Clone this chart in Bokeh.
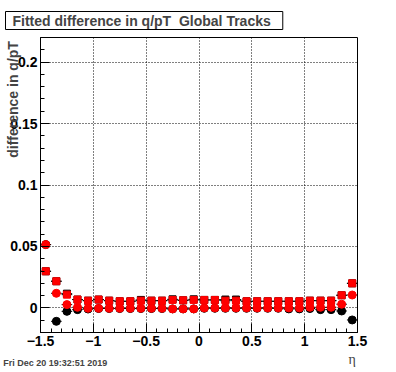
import numpy as np
from bokeh.plotting import figure
from bokeh.models import FixedTicker, LinearAxis, ColumnDataSource
from bokeh.embed import file_html
from bokeh.resources import INLINE

# ---------------- data ----------------
eta = [-1.45, -1.35, -1.25, -1.15, -1.05, -0.95, -0.85, -0.75, -0.65, -0.55,
       -0.45, -0.35, -0.25, -0.15, -0.05, 0.05, 0.15, 0.25, 0.35, 0.45,
       0.55, 0.65, 0.75, 0.85, 0.95, 1.05, 1.15, 1.25, 1.35, 1.45]
bin_half_width = 0.05

red_squares = [0.0298, 0.0217, 0.0108, 0.0068, 0.0059, 0.0068, 0.0059, 0.0054, 0.0054, 0.0059,
               0.0059, 0.0059, 0.0065, 0.0062, 0.0065, 0.0065, 0.0065, 0.0059, 0.0059, 0.0054,
               0.0054, 0.0054, 0.0054, 0.0054, 0.0054, 0.0059, 0.0059, 0.0059, 0.0103, 0.0200]
black_squares = [0.0298, 0.0217, 0.0116, 0.0068, 0.0059, 0.0068, 0.0059, 0.0054, 0.0054, 0.0065,
                 0.0059, 0.0059, 0.0070, 0.0062, 0.0070, 0.0065, 0.0065, 0.0068, 0.0068, 0.0054,
                 0.0054, 0.0054, 0.0054, 0.0054, 0.0054, 0.0059, 0.0059, 0.0059, 0.0103, 0.0200]
red_circles = [0.0515, 0.0119, 0.0027, 0.0005, -0.0003, -0.0003, -0.0003, -0.0003, -0.0003, -0.0003,
               -0.0003, -0.0003, -0.0008, -0.0008, -0.0008, 0.0000, 0.0000, 0.0000, 0.0000, 0.0000,
               0.0000, 0.0000, 0.0000, 0.0000, 0.0000, 0.0005, 0.0005, 0.0005, 0.0030, 0.0105]
black_circles = [0.0515, -0.0109, -0.0028, -0.0014, -0.0009, -0.0005, -0.0005, -0.0005, -0.0005, -0.0005,
                 -0.0005, -0.0005, -0.0008, -0.0008, -0.0008, -0.0003, -0.0003, -0.0003, -0.0003, -0.0003,
                 -0.0003, -0.0003, -0.0003, -0.0008, -0.0008, -0.0005, -0.0014, -0.0014, -0.0025, -0.0098]

x_ticks = [-1.5, -1.0, -0.5, 0.0, 0.5, 1.0, 1.5]
x_tick_labels = ["\u22121.5", "\u22121", "\u22120.5", "0", "0.5", "1", "1.5"]
y_ticks = [0.0, 0.05, 0.1, 0.15, 0.2]
y_tick_labels = ["0", "0.05", "0.1", "0.15", "0.2"]

title_text = "Fitted difference in q/pT\u00a0 Global Tracks"
y_title = "difference in q/pT"
x_title = "\u03b7"
date_text = "Fri Dec 20 19:32:51 2019"

NBSP = "\u00a0"

# ---------------- layout ----------------
X0, X1 = -1.5, 1.5
Y0, Y1 = -0.02, 0.22
W, H = 396, 372
BL, BR, BT, BB = 40, 39, 37, 40

p = figure(width=W, height=H, x_range=(X0, X1), y_range=(Y0, Y1),
           output_backend="svg", toolbar_location=None,
           min_border_left=BL, min_border_right=BR, min_border_top=BT, min_border_bottom=BB)
p.background_fill_color = "white"
p.border_fill_color = "white"
p.outline_line_color = "black"
p.outline_line_width = 1

x_minor = list(np.round(np.arange(-1.5, 1.5001, 0.1), 3))
y_minor = list(np.round(np.arange(-0.02, 0.2201, 0.01), 3))
p.xaxis.ticker = FixedTicker(ticks=x_ticks, minor_ticks=x_minor)
p.yaxis.ticker = FixedTicker(ticks=y_ticks, minor_ticks=y_minor)
p.xaxis.major_label_overrides = {t: l for t, l in zip(x_ticks, x_tick_labels)}
p.yaxis.major_label_overrides = {t: l for t, l in zip(y_ticks, y_tick_labels)}

for ax in (p.xaxis, p.yaxis):
    ax.axis_line_color = "black"
    ax.major_tick_line_color = "black"
    ax.minor_tick_line_color = "black"
    ax.major_tick_in = 9
    ax.major_tick_out = 0
    ax.minor_tick_in = 4
    ax.minor_tick_out = 0
    ax.major_label_text_font = "Liberation Sans"
    ax.major_label_text_font_style = "bold"
    ax.major_label_text_font_size = "14px"
    ax.major_label_text_color = "black"
    ax.major_label_standoff = 3

# y title: top-aligned along the axis (leading no-break spaces push it up)
p.yaxis.axis_label = NBSP * 44 + y_title
p.yaxis.axis_label_align = "center"
p.yaxis.axis_label_standoff = -14
p.yaxis.axis_label_text_font = "Liberation Sans"
p.yaxis.axis_label_text_font_style = "bold"
p.yaxis.axis_label_text_font_size = "14px"

# x title at the right end
p.xaxis.axis_label = x_title + NBSP * 3
p.xaxis.axis_label_align = "end"
p.xaxis.axis_label_standoff = 3
p.xaxis.axis_label_text_font = "Liberation Serif"
p.xaxis.axis_label_text_font_style = "normal"
p.xaxis.axis_label_text_font_size = "14px"

# date stamp as the label of a bare second axis below, pushed to the left edge
date_axis = LinearAxis(ticker=FixedTicker(ticks=[]), axis_line_color=None,
                       major_tick_line_color=None, minor_tick_line_color=None,
                       major_tick_out=0, minor_tick_out=0,
                       axis_label=date_text + NBSP * 115, axis_label_align="center",
                       axis_label_standoff=-12,
                       axis_label_text_font="Liberation Sans",
                       axis_label_text_font_style="bold",
                       axis_label_text_font_size="9px")
p.add_layout(date_axis, "below")

p.xgrid.ticker = FixedTicker(ticks=x_ticks)
p.ygrid.ticker = FixedTicker(ticks=y_ticks)
for g in (p.xgrid, p.ygrid):
    g.grid_line_color = "black"
    g.grid_line_dash = "1 2"
    g.grid_line_width = 1
    g.grid_line_alpha = 1.0

lo = [e - bin_half_width for e in eta]
hi = [e + bin_half_width for e in eta]
src = ColumnDataSource(dict(eta=eta, lo=lo, hi=hi, rs=red_squares, bs=black_squares,
                            rc=red_circles, bc=black_circles))

for col in ("bs", "bc", "rs", "rc"):
    p.segment(x0="lo", x1="hi", y0=col, y1=col, source=src, line_color="black", line_width=1)

p.scatter("eta", "bs", source=src, marker="square", size=7, fill_color="black", line_color="black")
p.scatter("eta", "bc", source=src, marker="circle", size=8, fill_color="black", line_color="black")
p.scatter("eta", "rs", source=src, marker="square", size=7, fill_color="#ff0000", line_color="#ff0000")
p.scatter("eta", "rc", source=src, marker="circle", size=8, fill_color="#ff0000", line_color="#ff0000")

# title box
p.title.text = title_text
p.title.align = "left"
p.title.vertical_align = "top"
p.title.offset = -35
p.title.standoff = 12
p.title.text_font = "Liberation Sans"
p.title.text_font_style = "bold"
p.title.text_font_size = "14px"
p.title.border_line_color = "black"
p.title.background_fill_color = "white"
p.title.padding = dict(left=7, right=12, top=1, bottom=1)

open("out.html", "w").write(file_html(p, INLINE))
